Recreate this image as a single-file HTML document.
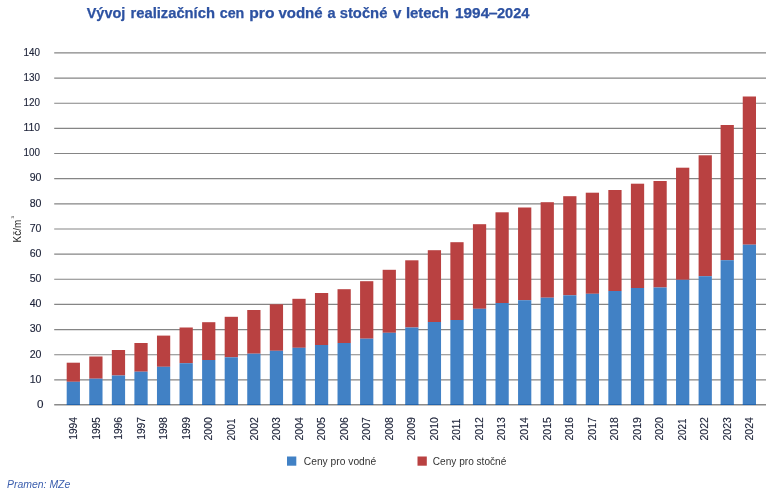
<!DOCTYPE html>
<html lang="cs">
<head>
<meta charset="utf-8">
<title>Vývoj realizačních cen pro vodné a stočné v letech 1994–2024</title>
<style>
html,body{margin:0;padding:0;background:#fff;}
body{width:780px;height:495px;overflow:hidden;font-family:"Liberation Sans",sans-serif;}
svg{display:block;}
text{font-family:"Liberation Sans",sans-serif;}
.title{font-weight:bold;font-size:14px;fill:#2D52A2;stroke:#2D52A2;stroke-width:0.25px;}
.yl{font-size:11.3px;fill:#1c2238;text-anchor:end;stroke:#1c2238;stroke-width:0.15px;}
.xl{font-size:11.3px;fill:#1c2238;stroke:#1c2238;stroke-width:0.15px;}
.leg{font-size:11.4px;fill:#333;}
.src{font-size:11px;font-style:italic;fill:#3C5FAE;}
.axis{font-size:10.6px;fill:#222;}
</style>
</head>
<body>
<svg width="780" height="495" viewBox="0 0 780 495">
<rect x="0" y="0" width="780" height="495" fill="#ffffff"/>

<g class="title">
<text x="86.7" y="18.3" textLength="38.6" lengthAdjust="spacingAndGlyphs">Vývoj</text>
<text x="130.5" y="18.3" textLength="84.4" lengthAdjust="spacingAndGlyphs">realizačních</text>
<text x="219.7" y="18.3" textLength="24.6" lengthAdjust="spacingAndGlyphs">cen</text>
<text x="249.3" y="18.3" textLength="25.2" lengthAdjust="spacingAndGlyphs">pro</text>
<text x="278.4" y="18.3" textLength="44.2" lengthAdjust="spacingAndGlyphs">vodné</text>
<text x="327.6" y="18.3" textLength="8.1" lengthAdjust="spacingAndGlyphs">a</text>
<text x="339.7" y="18.3" textLength="47.7" lengthAdjust="spacingAndGlyphs">stočné</text>
<text x="392.9" y="18.3" textLength="8.4" lengthAdjust="spacingAndGlyphs">v</text>
<text x="405.9" y="18.3" textLength="43.1" lengthAdjust="spacingAndGlyphs">letech</text>
<text x="455.0" y="18.3" textLength="34.2" lengthAdjust="spacingAndGlyphs">1994</text>
<text x="488.7" y="18.3" textLength="8.8" lengthAdjust="spacingAndGlyphs">–</text>
<text x="497.0" y="18.3" textLength="32.5" lengthAdjust="spacingAndGlyphs">2024</text>
</g>
<g stroke="#858585" stroke-width="1.15">
<line x1="54.2" x2="766" y1="379.85" y2="379.85"/>
<line x1="54.2" x2="766" y1="354.70" y2="354.70"/>
<line x1="54.2" x2="766" y1="329.55" y2="329.55"/>
<line x1="54.2" x2="766" y1="304.40" y2="304.40"/>
<line x1="54.2" x2="766" y1="279.25" y2="279.25"/>
<line x1="54.2" x2="766" y1="254.10" y2="254.10"/>
<line x1="54.2" x2="766" y1="228.95" y2="228.95"/>
<line x1="54.2" x2="766" y1="203.80" y2="203.80"/>
<line x1="54.2" x2="766" y1="178.65" y2="178.65"/>
<line x1="54.2" x2="766" y1="153.50" y2="153.50"/>
<line x1="54.2" x2="766" y1="128.35" y2="128.35"/>
<line x1="54.2" x2="766" y1="103.20" y2="103.20"/>
<line x1="54.2" x2="766" y1="78.05" y2="78.05"/>
<line x1="54.2" x2="766" y1="52.90" y2="52.90"/>
</g>
<g class="yl">
<text x="43.40" y="407.80" textLength="6.50" lengthAdjust="spacingAndGlyphs">0</text>
<text x="41.50" y="382.65" textLength="11.80" lengthAdjust="spacingAndGlyphs">10</text>
<text x="41.50" y="357.50" textLength="11.80" lengthAdjust="spacingAndGlyphs">20</text>
<text x="41.50" y="332.35" textLength="11.80" lengthAdjust="spacingAndGlyphs">30</text>
<text x="41.50" y="307.20" textLength="11.80" lengthAdjust="spacingAndGlyphs">40</text>
<text x="41.50" y="282.05" textLength="11.80" lengthAdjust="spacingAndGlyphs">50</text>
<text x="41.50" y="256.90" textLength="11.80" lengthAdjust="spacingAndGlyphs">60</text>
<text x="41.50" y="231.75" textLength="11.80" lengthAdjust="spacingAndGlyphs">70</text>
<text x="41.50" y="206.60" textLength="11.80" lengthAdjust="spacingAndGlyphs">80</text>
<text x="41.50" y="181.45" textLength="11.80" lengthAdjust="spacingAndGlyphs">90</text>
<text x="40.10" y="156.30" textLength="16.50" lengthAdjust="spacingAndGlyphs">100</text>
<text x="40.10" y="131.15" textLength="16.50" lengthAdjust="spacingAndGlyphs">110</text>
<text x="40.10" y="106.00" textLength="16.50" lengthAdjust="spacingAndGlyphs">120</text>
<text x="40.10" y="80.85" textLength="16.50" lengthAdjust="spacingAndGlyphs">130</text>
<text x="40.10" y="55.70" textLength="16.50" lengthAdjust="spacingAndGlyphs">140</text>
</g>
<line x1="54.2" x2="766" y1="404.75" y2="404.75" stroke="#8a8a8a" stroke-width="1.3"/>
<g>
<rect x="66.70" y="362.70" width="13.25" height="19.10" fill="#B94141"/>
<rect x="66.70" y="381.80" width="13.25" height="23.20" fill="#4181C5"/>
<rect x="66.70" y="404.1" width="13.25" height="0.9" fill="#2263ab"/>
<rect x="89.27" y="356.50" width="13.25" height="22.20" fill="#B94141"/>
<rect x="89.27" y="378.70" width="13.25" height="26.30" fill="#4181C5"/>
<rect x="89.27" y="404.1" width="13.25" height="0.9" fill="#2263ab"/>
<rect x="111.84" y="350.00" width="13.25" height="25.50" fill="#B94141"/>
<rect x="111.84" y="375.50" width="13.25" height="29.50" fill="#4181C5"/>
<rect x="111.84" y="404.1" width="13.25" height="0.9" fill="#2263ab"/>
<rect x="134.40" y="343.00" width="13.25" height="28.70" fill="#B94141"/>
<rect x="134.40" y="371.70" width="13.25" height="33.30" fill="#4181C5"/>
<rect x="134.40" y="404.1" width="13.25" height="0.9" fill="#2263ab"/>
<rect x="156.97" y="335.60" width="13.25" height="31.20" fill="#B94141"/>
<rect x="156.97" y="366.80" width="13.25" height="38.20" fill="#4181C5"/>
<rect x="156.97" y="404.1" width="13.25" height="0.9" fill="#2263ab"/>
<rect x="179.54" y="327.50" width="13.25" height="35.70" fill="#B94141"/>
<rect x="179.54" y="363.20" width="13.25" height="41.80" fill="#4181C5"/>
<rect x="179.54" y="404.1" width="13.25" height="0.9" fill="#2263ab"/>
<rect x="202.11" y="322.20" width="13.25" height="37.80" fill="#B94141"/>
<rect x="202.11" y="360.00" width="13.25" height="45.00" fill="#4181C5"/>
<rect x="202.11" y="404.1" width="13.25" height="0.9" fill="#2263ab"/>
<rect x="224.68" y="316.80" width="13.25" height="40.50" fill="#B94141"/>
<rect x="224.68" y="357.30" width="13.25" height="47.70" fill="#4181C5"/>
<rect x="224.68" y="404.1" width="13.25" height="0.9" fill="#2263ab"/>
<rect x="247.24" y="310.00" width="13.25" height="43.70" fill="#B94141"/>
<rect x="247.24" y="353.70" width="13.25" height="51.30" fill="#4181C5"/>
<rect x="247.24" y="404.1" width="13.25" height="0.9" fill="#2263ab"/>
<rect x="269.81" y="304.30" width="13.25" height="46.50" fill="#B94141"/>
<rect x="269.81" y="350.80" width="13.25" height="54.20" fill="#4181C5"/>
<rect x="269.81" y="404.1" width="13.25" height="0.9" fill="#2263ab"/>
<rect x="292.38" y="298.80" width="13.25" height="49.00" fill="#B94141"/>
<rect x="292.38" y="347.80" width="13.25" height="57.20" fill="#4181C5"/>
<rect x="292.38" y="404.1" width="13.25" height="0.9" fill="#2263ab"/>
<rect x="314.95" y="293.00" width="13.25" height="52.00" fill="#B94141"/>
<rect x="314.95" y="345.00" width="13.25" height="60.00" fill="#4181C5"/>
<rect x="314.95" y="404.1" width="13.25" height="0.9" fill="#2263ab"/>
<rect x="337.52" y="289.20" width="13.25" height="53.80" fill="#B94141"/>
<rect x="337.52" y="343.00" width="13.25" height="62.00" fill="#4181C5"/>
<rect x="337.52" y="404.1" width="13.25" height="0.9" fill="#2263ab"/>
<rect x="360.08" y="281.20" width="13.25" height="57.50" fill="#B94141"/>
<rect x="360.08" y="338.70" width="13.25" height="66.30" fill="#4181C5"/>
<rect x="360.08" y="404.1" width="13.25" height="0.9" fill="#2263ab"/>
<rect x="382.65" y="269.80" width="13.25" height="63.00" fill="#B94141"/>
<rect x="382.65" y="332.80" width="13.25" height="72.20" fill="#4181C5"/>
<rect x="382.65" y="404.1" width="13.25" height="0.9" fill="#2263ab"/>
<rect x="405.22" y="260.30" width="13.25" height="67.20" fill="#B94141"/>
<rect x="405.22" y="327.50" width="13.25" height="77.50" fill="#4181C5"/>
<rect x="405.22" y="404.1" width="13.25" height="0.9" fill="#2263ab"/>
<rect x="427.79" y="250.20" width="13.25" height="71.80" fill="#B94141"/>
<rect x="427.79" y="322.00" width="13.25" height="83.00" fill="#4181C5"/>
<rect x="427.79" y="404.1" width="13.25" height="0.9" fill="#2263ab"/>
<rect x="450.36" y="242.20" width="13.25" height="77.80" fill="#B94141"/>
<rect x="450.36" y="320.00" width="13.25" height="85.00" fill="#4181C5"/>
<rect x="450.36" y="404.1" width="13.25" height="0.9" fill="#2263ab"/>
<rect x="472.92" y="224.20" width="13.25" height="84.60" fill="#B94141"/>
<rect x="472.92" y="308.80" width="13.25" height="96.20" fill="#4181C5"/>
<rect x="472.92" y="404.1" width="13.25" height="0.9" fill="#2263ab"/>
<rect x="495.49" y="212.30" width="13.25" height="90.70" fill="#B94141"/>
<rect x="495.49" y="303.00" width="13.25" height="102.00" fill="#4181C5"/>
<rect x="495.49" y="404.1" width="13.25" height="0.9" fill="#2263ab"/>
<rect x="518.06" y="207.50" width="13.25" height="92.70" fill="#B94141"/>
<rect x="518.06" y="300.20" width="13.25" height="104.80" fill="#4181C5"/>
<rect x="518.06" y="404.1" width="13.25" height="0.9" fill="#2263ab"/>
<rect x="540.63" y="202.20" width="13.25" height="95.50" fill="#B94141"/>
<rect x="540.63" y="297.70" width="13.25" height="107.30" fill="#4181C5"/>
<rect x="540.63" y="404.1" width="13.25" height="0.9" fill="#2263ab"/>
<rect x="563.20" y="196.20" width="13.25" height="99.10" fill="#B94141"/>
<rect x="563.20" y="295.30" width="13.25" height="109.70" fill="#4181C5"/>
<rect x="563.20" y="404.1" width="13.25" height="0.9" fill="#2263ab"/>
<rect x="585.76" y="192.70" width="13.25" height="101.10" fill="#B94141"/>
<rect x="585.76" y="293.80" width="13.25" height="111.20" fill="#4181C5"/>
<rect x="585.76" y="404.1" width="13.25" height="0.9" fill="#2263ab"/>
<rect x="608.33" y="190.00" width="13.25" height="101.00" fill="#B94141"/>
<rect x="608.33" y="291.00" width="13.25" height="114.00" fill="#4181C5"/>
<rect x="608.33" y="404.1" width="13.25" height="0.9" fill="#2263ab"/>
<rect x="630.90" y="183.70" width="13.25" height="104.30" fill="#B94141"/>
<rect x="630.90" y="288.00" width="13.25" height="117.00" fill="#4181C5"/>
<rect x="630.90" y="404.1" width="13.25" height="0.9" fill="#2263ab"/>
<rect x="653.47" y="181.00" width="13.25" height="106.50" fill="#B94141"/>
<rect x="653.47" y="287.50" width="13.25" height="117.50" fill="#4181C5"/>
<rect x="653.47" y="404.1" width="13.25" height="0.9" fill="#2263ab"/>
<rect x="676.04" y="167.70" width="13.25" height="112.10" fill="#B94141"/>
<rect x="676.04" y="279.80" width="13.25" height="125.20" fill="#4181C5"/>
<rect x="676.04" y="404.1" width="13.25" height="0.9" fill="#2263ab"/>
<rect x="698.60" y="155.30" width="13.25" height="120.90" fill="#B94141"/>
<rect x="698.60" y="276.20" width="13.25" height="128.80" fill="#4181C5"/>
<rect x="698.60" y="404.1" width="13.25" height="0.9" fill="#2263ab"/>
<rect x="720.60" y="125.00" width="13.25" height="135.20" fill="#B94141"/>
<rect x="720.60" y="260.20" width="13.25" height="144.80" fill="#4181C5"/>
<rect x="720.60" y="404.1" width="13.25" height="0.9" fill="#2263ab"/>
<rect x="742.75" y="96.50" width="13.25" height="148.20" fill="#B94141"/>
<rect x="742.75" y="244.70" width="13.25" height="160.30" fill="#4181C5"/>
<rect x="742.75" y="404.1" width="13.25" height="0.9" fill="#2263ab"/>
</g>
<g class="xl">
<text transform="translate(77.20,439.7) rotate(-90)" textLength="22.5" lengthAdjust="spacingAndGlyphs">1994</text>
<text transform="translate(99.74,439.7) rotate(-90)" textLength="22.5" lengthAdjust="spacingAndGlyphs">1995</text>
<text transform="translate(122.28,439.7) rotate(-90)" textLength="22.5" lengthAdjust="spacingAndGlyphs">1996</text>
<text transform="translate(144.82,439.7) rotate(-90)" textLength="22.5" lengthAdjust="spacingAndGlyphs">1997</text>
<text transform="translate(167.36,439.7) rotate(-90)" textLength="22.5" lengthAdjust="spacingAndGlyphs">1998</text>
<text transform="translate(189.90,439.7) rotate(-90)" textLength="22.5" lengthAdjust="spacingAndGlyphs">1999</text>
<text transform="translate(212.44,440.5) rotate(-90)" textLength="23.3" lengthAdjust="spacingAndGlyphs">2000</text>
<text transform="translate(234.98,440.5) rotate(-90)" textLength="21.9" lengthAdjust="spacingAndGlyphs">2001</text>
<text transform="translate(257.52,440.5) rotate(-90)" textLength="23.3" lengthAdjust="spacingAndGlyphs">2002</text>
<text transform="translate(280.06,440.5) rotate(-90)" textLength="23.3" lengthAdjust="spacingAndGlyphs">2003</text>
<text transform="translate(302.60,440.5) rotate(-90)" textLength="23.3" lengthAdjust="spacingAndGlyphs">2004</text>
<text transform="translate(325.14,440.5) rotate(-90)" textLength="23.3" lengthAdjust="spacingAndGlyphs">2005</text>
<text transform="translate(347.68,440.5) rotate(-90)" textLength="23.3" lengthAdjust="spacingAndGlyphs">2006</text>
<text transform="translate(370.22,440.5) rotate(-90)" textLength="23.3" lengthAdjust="spacingAndGlyphs">2007</text>
<text transform="translate(392.76,440.5) rotate(-90)" textLength="23.3" lengthAdjust="spacingAndGlyphs">2008</text>
<text transform="translate(415.30,440.5) rotate(-90)" textLength="23.3" lengthAdjust="spacingAndGlyphs">2009</text>
<text transform="translate(437.84,440.5) rotate(-90)" textLength="23.3" lengthAdjust="spacingAndGlyphs">2010</text>
<text transform="translate(460.38,440.5) rotate(-90)" textLength="21.9" lengthAdjust="spacingAndGlyphs">2011</text>
<text transform="translate(482.92,440.5) rotate(-90)" textLength="23.3" lengthAdjust="spacingAndGlyphs">2012</text>
<text transform="translate(505.46,440.5) rotate(-90)" textLength="23.3" lengthAdjust="spacingAndGlyphs">2013</text>
<text transform="translate(528.00,440.5) rotate(-90)" textLength="23.3" lengthAdjust="spacingAndGlyphs">2014</text>
<text transform="translate(550.54,440.5) rotate(-90)" textLength="23.3" lengthAdjust="spacingAndGlyphs">2015</text>
<text transform="translate(573.08,440.5) rotate(-90)" textLength="23.3" lengthAdjust="spacingAndGlyphs">2016</text>
<text transform="translate(595.62,440.5) rotate(-90)" textLength="23.3" lengthAdjust="spacingAndGlyphs">2017</text>
<text transform="translate(618.16,440.5) rotate(-90)" textLength="23.3" lengthAdjust="spacingAndGlyphs">2018</text>
<text transform="translate(640.70,440.5) rotate(-90)" textLength="23.3" lengthAdjust="spacingAndGlyphs">2019</text>
<text transform="translate(663.24,440.5) rotate(-90)" textLength="23.3" lengthAdjust="spacingAndGlyphs">2020</text>
<text transform="translate(685.78,440.5) rotate(-90)" textLength="21.9" lengthAdjust="spacingAndGlyphs">2021</text>
<text transform="translate(708.32,440.5) rotate(-90)" textLength="23.3" lengthAdjust="spacingAndGlyphs">2022</text>
<text transform="translate(730.86,440.5) rotate(-90)" textLength="23.3" lengthAdjust="spacingAndGlyphs">2023</text>
<text transform="translate(753.40,440.5) rotate(-90)" textLength="23.3" lengthAdjust="spacingAndGlyphs">2024</text>
</g>
<text class="axis" transform="translate(21.3,242.4) rotate(-90)" textLength="22.6" lengthAdjust="spacingAndGlyphs">Kč/m</text>
<text class="axis" style="font-size:4.2px" transform="translate(13.7,218.5) rotate(-90)">3</text>
<rect x="287" y="456.5" width="9.3" height="9.2" fill="#4181C5"/>
<text class="leg" x="303.8" y="464.9" textLength="72.4" lengthAdjust="spacingAndGlyphs">Ceny pro vodné</text>
<rect x="417.5" y="456.5" width="9.3" height="9.2" fill="#B94141"/>
<text class="leg" x="432.8" y="464.9" textLength="73.5" lengthAdjust="spacingAndGlyphs">Ceny pro stočné</text>
<text class="src" x="7" y="487.6" textLength="63.3" lengthAdjust="spacingAndGlyphs">Pramen: MZe</text>
</svg>
</body>
</html>
